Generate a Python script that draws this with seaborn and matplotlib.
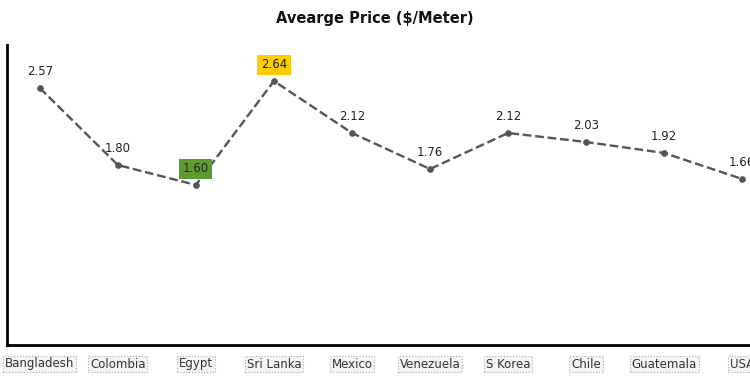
import pandas as pd
import matplotlib.pyplot as plt
import seaborn as sns

countries = ['Bangladesh', 'Colombia', 'Egypt', 'Sri Lanka', 'Mexico',
             'Venezuela', 'S Korea', 'Chile', 'Guatemala', 'USA']
prices = [2.57, 1.80, 1.60, 2.64, 2.12, 1.76, 2.12, 2.03, 1.92, 1.66]
highlight = {'Sri Lanka': '#FFCC00', 'Egypt': '#5E9A32'}

df = pd.DataFrame({'country': countries, 'price': prices})
df['pos'] = range(len(df))

sns.set_style('white')
fig = plt.figure(figsize=(7.5, 3.78), dpi=100)
ax = fig.add_axes([7 / 750, 1 - 345 / 378, 743 / 750, 300 / 378])

sns.lineplot(data=df, x='pos', y='price', ax=ax, color='#555555',
             linestyle='--', linewidth=1.7, marker='o', markersize=4,
             markeredgecolor='#555555')

for _, r in df.iterrows():
    box = None
    if r['country'] in highlight:
        box = dict(boxstyle='square,pad=0.3', facecolor=highlight[r['country']],
                   edgecolor='none')
    ax.annotate(f"{r['price']:.2f}", (r['pos'], r['price']), xytext=(0, 7),
                textcoords='offset points', ha='center', va='bottom',
                fontsize=8.5, color='#222222', bbox=box)

ax.set_ylim(0, 3)
ax.set_xlim(-0.42, 9.1)
ax.set_yticks([])
ax.set_xticks(df['pos'])
ax.set_xticklabels(countries, fontsize=8.5, color='#333333')
for lab in ax.get_xticklabels():
    lab.set_bbox(dict(boxstyle='square,pad=0.15', facecolor='#f4f4f4',
                      edgecolor='#aaaaaa', linestyle=':', linewidth=0.8))
ax.tick_params(axis='x', length=0, pad=9)
ax.set_xlabel('')
ax.set_ylabel('')

sns.despine(ax=ax, top=True, right=True)
for s in ['left', 'bottom']:
    ax.spines[s].set_color('black')
    ax.spines[s].set_linewidth(2)

fig.text(0.5, 1 - 18 / 378, 'Avearge Price ($/Meter)', ha='center', va='center',
         fontsize=10.5, fontweight='bold', color='#111111')

fig.savefig('out.png', dpi=100)
